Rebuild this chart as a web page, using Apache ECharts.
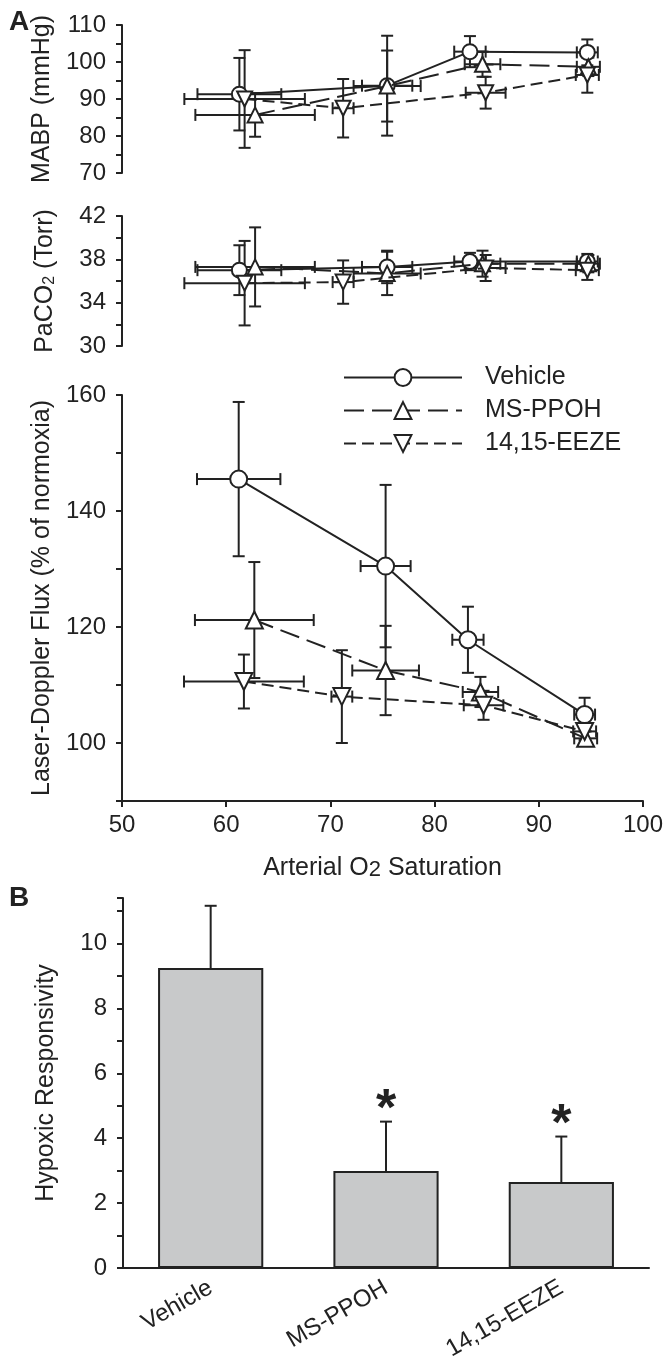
<!DOCTYPE html>
<html><head><meta charset="utf-8">
<script src="https://cdn.jsdelivr.net/npm/echarts@6/dist/echarts.min.js"></script>
<style>html,body{margin:0;padding:0;background:#fff}#c{width:666px;height:1365px}</style>
</head><body><div id="c"></div>
<script>
// ---------------- data ----------------
const groups = ['Vehicle', 'MS-PPOH', '14,15-EEZE'];

// Arterial O2 saturation (x) and its SE, per group
const satVehicle    = [61.2, 75.3, 83.2, 94.4];
const satVehicleErr = [4.0, 2.4, 1.5, 1.0];
const satMsppoh     = [62.7, 75.3, 84.4, 94.5];
const satMsppohErr  = [5.7, 3.2, 1.7, 1.1];
const satEeze       = [61.7, 71.1, 84.7, 94.4];
const satEezeErr    = [5.75, 1.0, 1.9, 1.1];

// MABP (mmHg)
const mabpVehicle    = [91.3, 93.6, 102.8, 102.6];
const mabpVehicleErr = [9.8, 13.5, 4.2, 3.5];
const mabpMsppoh     = [85.7, 93.5, 99.4, 98.7];
const mabpMsppohErr  = [5.9, 9.6, 3.4, 2.5];
const mabpEeze       = [90.0, 87.5, 91.7, 96.5];
const mabpEezeErr    = [13.2, 7.9, 4.3, 4.8];

// PaCO2 (Torr)
const pacoVehicle    = [37.0, 37.3, 37.8, 37.8];
const pacoVehicleErr = [2.3, 1.5, 0.8, 0.7];
const pacoMsppoh     = [37.3, 36.7, 37.6, 37.6];
const pacoMsppohErr  = [3.65, 2.0, 1.2, 0.8];
const pacoEeze       = [35.8, 35.9, 37.2, 37.0];
const pacoEezeErr    = [3.9, 2.0, 1.2, 0.9];

// Laser-Doppler flux (% of normoxia)
const ldfVehicle    = [145.5, 130.5, 117.8, 104.9];
const ldfVehicleErr = [13.3, 14.0, 5.7, 2.9];
const ldfMsppoh     = [121.2, 112.5, 108.8, 100.8];
const ldfMsppohErr  = [10.0, 7.7, 2.6, 1.2];
const ldfEeze       = [110.6, 108.0, 106.5, 102.0];
const ldfEezeErr    = [4.65, 8.0, 2.5, 1.5];

// Panel B: hypoxic responsivity
const hrValues = [9.24, 2.99, 2.65];
const hrErr    = [1.92, 1.52, 1.40];
const hrSig    = [0, 1, 1];

// ---------------- styling ----------------
const INK = '#222';
const FONT = '"Liberation Sans", Arial, Helvetica, sans-serif';
const CAP = 6;
const dashes = ['solid', [20, 8], [12, 6]];
const symbols = ['circle', 'triangle', 'triangle'];
const rotates = [0, 0, 180];

const satX = [satVehicle, satMsppoh, satEeze];
const satXE = [satVehicleErr, satMsppohErr, satEezeErr];
const panels = [
  { vals: [mabpVehicle, mabpMsppoh, mabpEeze], errs: [mabpVehicleErr, mabpMsppohErr, mabpEezeErr], size: 15 },
  { vals: [pacoVehicle, pacoMsppoh, pacoEeze], errs: [pacoVehicleErr, pacoMsppohErr, pacoEezeErr], size: 15 },
  { vals: [ldfVehicle, ldfMsppoh, ldfEeze], errs: [ldfVehicleErr, ldfMsppohErr, ldfEezeErr], size: 17 }
];

function seg(x1, y1, x2, y2) {
  return { type: 'line', shape: { x1, y1, x2, y2 }, style: { stroke: INK, lineWidth: 2 } };
}
function xyErr(params, api) {
  const x = api.value(0), y = api.value(1), xe = api.value(2), ye = api.value(3);
  const t = api.coord([x, y + ye]), b = api.coord([x, y - ye]);
  const l = api.coord([x - xe, y]), r = api.coord([x + xe, y]);
  const h = CAP;
  return { type: 'group', children: [
    seg(t[0], t[1], b[0], b[1]), seg(t[0] - h, t[1], t[0] + h, t[1]), seg(b[0] - h, b[1], b[0] + h, b[1]),
    seg(l[0], l[1], r[0], r[1]), seg(l[0], l[1] - h, l[0], l[1] + h), seg(r[0], r[1] - h, r[0], r[1] + h)
  ]};
}
function barErr(params, api) {
  const i = api.value(0), v = api.value(1), e = api.value(2), sig = api.value(3);
  const p0 = api.coord([i, v]), p1 = api.coord([i, v + e]);
  const ch = [seg(p0[0], p0[1], p1[0], p1[1]), seg(p1[0] - CAP, p1[1], p1[0] + CAP, p1[1])];
  if (sig) {
    ch.push({ type: 'text', x: p1[0], y: p1[1] - 23 + 12,
      style: { text: '*', fill: INK, font: 'bold 52px ' + FONT, textAlign: 'center', textVerticalAlign: 'middle' } });
  }
  return { type: 'group', children: ch };
}

const grids = [
  { left: 122, width: 524, top: 25, height: 148 },
  { left: 122, width: 524, top: 216, height: 130 },
  { left: 122, width: 524, top: 395, height: 406 },
  { left: 123, width: 526, top: 898, height: 370 }
];

const axisLineStyle = { show: true, lineStyle: { color: INK, width: 2 } };
const tickStyle = { show: true, length: 6, lineStyle: { color: INK, width: 2 } };
const labelStyle = { color: INK, fontSize: 24, fontFamily: FONT, margin: 12 };
const nameStyle = { color: INK, fontSize: 25, fontFamily: FONT,
  rich: { sub: { fontSize: 16, lineHeight: 8, verticalAlign: 'bottom', fontFamily: FONT, color: INK } } };

function satAxis(idx, show) {
  return { type: 'value', gridIndex: idx, min: 50, max: 100, interval: 10, show: show,
    axisLine: axisLineStyle, axisTick: tickStyle, splitLine: { show: false },
    axisLabel: labelStyle };
}

const xAxis = [
  satAxis(0, false), satAxis(1, false),
  Object.assign(satAxis(2, true), { name: 'Arterial O{sub|2} Saturation', nameLocation: 'middle', nameGap: 55,
    nameTextStyle: { color: INK, fontSize: 25, fontFamily: FONT,
      rich: { sub: { fontSize: 22, lineHeight: 10, verticalAlign: 'bottom', fontFamily: FONT, color: INK } } } }),
  { type: 'category', gridIndex: 3, data: groups, axisLine: axisLineStyle, axisTick: { show: false },
    axisLabel: Object.assign({}, labelStyle, { rotate: 30, margin: 18 }) }
];

function yAx(idx, min, max, interval, fmt, name) {
  return { type: 'value', gridIndex: idx, min, max, interval,
    axisLine: axisLineStyle, axisTick: tickStyle, splitLine: { show: false },
    axisLabel: Object.assign({}, labelStyle, { formatter: fmt, margin: 16 }),
    name, nameLocation: 'middle', nameRotate: 90, nameGap: 64, nameTextStyle: nameStyle };
}
const yAxis = [
  yAx(0, 70, 110, 5, v => (v % 10 === 0 ? String(v) : ''), 'MABP (mmHg)'),
  yAx(1, 30, 42, 2, v => ((v - 30) % 4 === 0 ? String(v) : ''), 'PaCO{sub|2} (Torr)'),
  yAx(2, 90, 160, 10, v => (v >= 100 && (v - 100) % 20 === 0 ? String(v) : ''), 'Laser-Doppler Flux (% of normoxia)'),
  yAx(3, 0, 11.4, 1, v => (v <= 10 && v % 2 === 0 ? String(v) : ''), 'Hypoxic Responsivity')
];

const series = [];
panels.forEach((p, pi) => {
  groups.forEach((g, gi) => {
    const pts = satX[gi].map((x, k) => [x, p.vals[gi][k], satXE[gi][k], p.errs[gi][k]]);
    series.push({ type: 'custom', xAxisIndex: pi, yAxisIndex: pi, renderItem: xyErr,
      data: pts, encode: { x: 0, y: 1 }, z: 2, silent: true });
  });
});
panels.slice().reverse().forEach((p, ri) => {
  const pi = 2 - ri;
  groups.forEach((g, gi) => {
    series.push({ type: 'line', name: g, xAxisIndex: pi, yAxisIndex: pi,
      data: satX[gi].map((x, k) => [x, p.vals[gi][k]]),
      symbol: symbols[gi], symbolSize: p.size, symbolRotate: rotates[gi], showAllSymbol: true,
      lineStyle: { color: INK, width: 2, type: dashes[gi] },
      itemStyle: { color: '#fff', borderColor: INK, borderWidth: 2 },
      z: 3 + gi, silent: true });
  });
});
series.push({ type: 'bar', xAxisIndex: 3, yAxisIndex: 3, data: hrValues, barWidth: '60%',
  itemStyle: { color: '#c8c9ca', borderColor: INK, borderWidth: 2 }, silent: true, z: 2 });
series.push({ type: 'custom', xAxisIndex: 3, yAxisIndex: 3, renderItem: barErr,
  data: hrValues.map((v, i) => [i, v, hrErr[i], hrSig[i]]), encode: { x: 0, y: 1 }, z: 3, silent: true });

const option = {
  animation: false,
  backgroundColor: '#fff',
  textStyle: { fontFamily: FONT },
  title: [
    { text: 'A', left: 4, top: 3, textStyle: { fontSize: 28, fontWeight: 'bold', color: INK, fontFamily: FONT } },
    { text: 'B', left: 4, top: 879, textStyle: { fontSize: 28, fontWeight: 'bold', color: INK, fontFamily: FONT } }
  ],
  legend: { data: groups, orient: 'vertical', left: 338, top: 360, itemWidth: 118, itemHeight: 21, itemGap: 8,
    selectedMode: false, textStyle: { color: INK, fontSize: 25, fontFamily: FONT, padding: [0, 0, 0, 18] } },
  grid: grids,
  xAxis, yAxis, series
};
const chart = echarts.init(document.getElementById('c'), null, { renderer: 'canvas' });
chart.setOption(option);
</script></body></html>
